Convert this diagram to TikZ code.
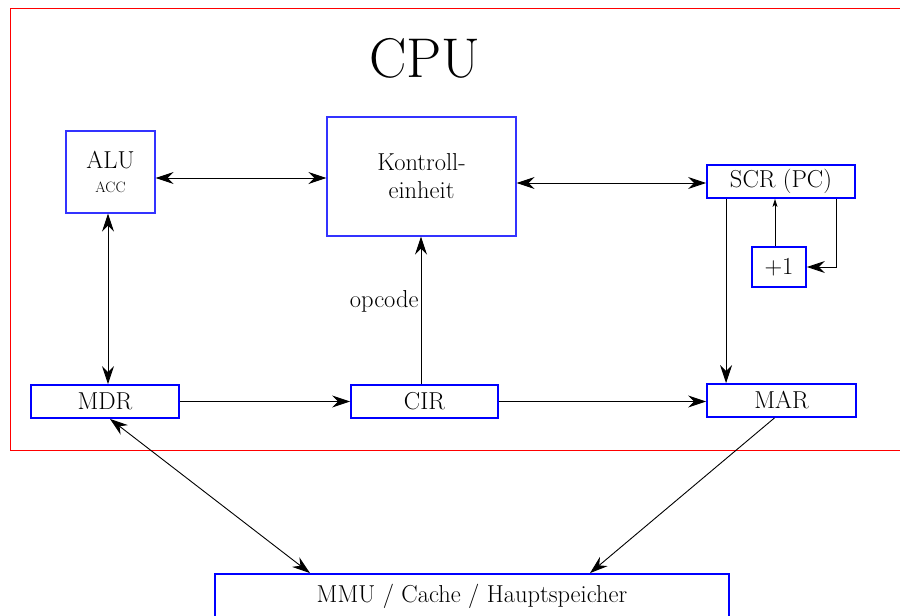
\documentclass[tikz,border=0pt]{standalone}
\usetikzlibrary{arrows.meta}

\tikzset{
  unitbox/.style={draw=blue, line width=1.8pt, inner sep=0pt, align=center,
    font=\fontsize{24.5}{28}\selectfont},
  thinbox/.style={unitbox, draw=blue!80, line width=1.1pt},
  conn/.style={line width=0.9pt, -{Stealth[length=18pt, width=12pt, inset=6pt]}},
  biconn/.style={line width=0.9pt, {Stealth[length=18pt, width=12pt, inset=6pt]}-{Stealth[length=18pt, width=12pt, inset=6pt]}},
  smallconn/.style={line width=0.9pt, -{Stealth[length=8pt, width=5pt, inset=2pt]}},
}

\begin{document}
\begin{tikzpicture}[x=1pt, y=-1pt]
\useasboundingbox (0,0) rectangle (900,616);
\clip (0,0) rectangle (900,616);

% CPU frame
\draw[red, line width=1pt] (10,8) rectangle (930,450);
\node[font=\fontsize{56}{62}\selectfont] (cpu) at (425,58) {CPU};

% functional units
\node[thinbox, minimum width=89pt, minimum height=82pt] (alu) at (110.5,172)
  {ALU\\[-4pt]{\fontsize{15}{18}\selectfont ACC}};
\node[thinbox, minimum width=189pt, minimum height=119pt] (ctrl) at (421.5,176.5)
  {Kontroll-\\einheit};
\node[unitbox, minimum width=148pt, minimum height=33pt] (scr) at (781,181.5) {SCR (PC)};
\node[unitbox, minimum width=54pt, minimum height=40pt] (inc) at (779,267) {+1};
\node[unitbox, minimum width=148pt, minimum height=33pt] (mdr) at (105,401.5) {MDR};
\node[unitbox, minimum width=147pt, minimum height=33pt] (cir) at (424.5,401.5) {CIR};
\node[unitbox, minimum width=149pt, minimum height=33pt] (mar) at (781.5,400.5) {MAR};
\node[unitbox, minimum width=514pt, minimum height=44pt] (mem) at (472,596)
  {MMU / Cache / Hauptspeicher};

% data paths
\draw[biconn] ([yshift=-6pt]alu.east) -- ([yshift=-1.5pt]ctrl.west);
\draw[biconn] ([yshift=-6.5pt]ctrl.east) -- ([yshift=-1.5pt]scr.west);
\draw[biconn] ([xshift=-2.5pt]alu.south) -- ([xshift=3pt]mdr.north);
\draw[conn] ([xshift=-3.5pt]cir.north) -- node[left, pos=0.56, inner sep=2pt, font=\fontsize{24.5}{28}\selectfont] {opcode} ([xshift=-0.5pt]ctrl.south);
\draw[conn] (mdr.east) -- (cir.west);
\draw[conn] (cir.east) -- (cir.east -| mar.west);

\coordinate (scrout) at ([xshift=20pt]scr.south west);
\draw[conn] (scrout) -- (scrout |- mar.north);
\coordinate (incout) at ([xshift=-4pt]inc.north);
\draw[smallconn] (incout) -- (incout |- scr.south);
\coordinate (scrinc) at ([xshift=-19pt]scr.south east);
\draw[conn] (scrinc) |- (inc.east);

\draw[biconn] ([xshift=5pt]mdr.south) -- ([xshift=-162pt]mem.north);
\draw[conn] ([xshift=-7pt]mar.south) -- ([xshift=118pt]mem.north);
\end{tikzpicture}
\end{document}
